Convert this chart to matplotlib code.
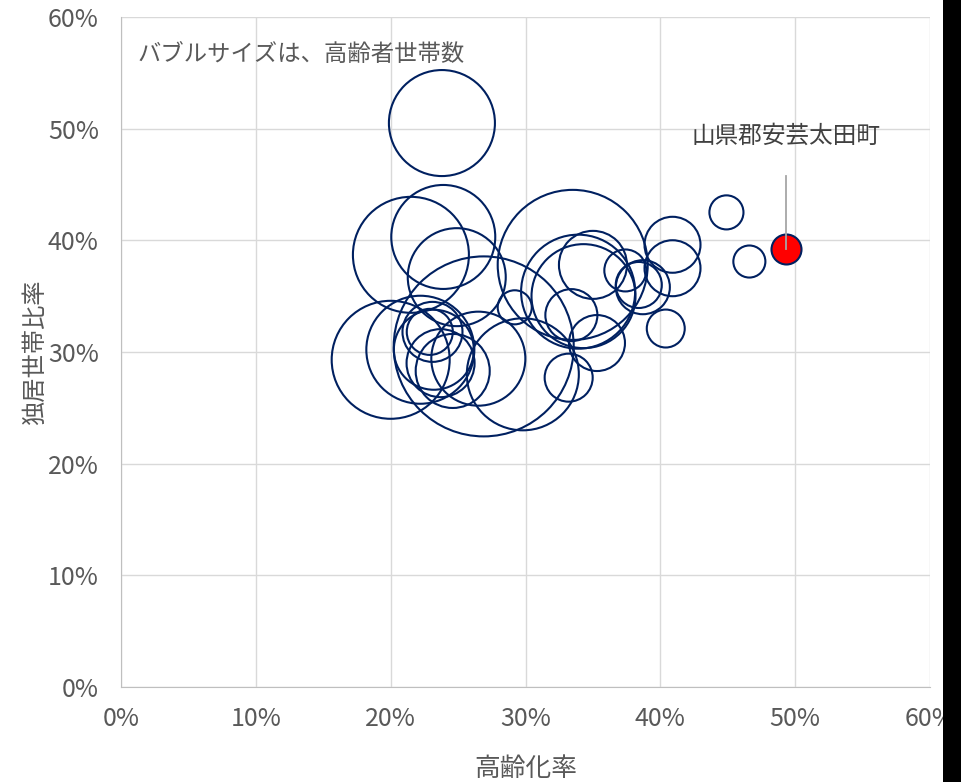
import matplotlib
matplotlib.use("Agg")
import matplotlib.pyplot as plt
from matplotlib.patches import Rectangle
import numpy as np

plt.rcParams['font.family'] = ['Noto Sans CJK JP', 'DejaVu Sans']

# 高齢化率 (%), 独居世帯比率 (%), 高齢者世帯数
aging_rate = [23.8, 21.5, 23.9, 24.9, 33.5, 26.9, 20.0, 22.2, 22.9, 23.1,
              23.2, 23.7, 24.6, 26.5, 29.8, 29.2, 33.9, 34.3, 35.0, 33.4,
              35.3, 33.2, 37.4, 38.4, 38.7, 40.9, 40.9, 40.4, 44.9, 46.6]
single_rate = [50.5, 38.7, 40.3, 36.7, 37.8, 30.5, 29.3, 30.2, 31.8, 31.8,
               30.2, 29.0, 28.3, 29.4, 28.0, 34.0, 35.4, 35.0, 37.8, 33.3,
               30.8, 27.7, 37.3, 36.0, 35.8, 39.6, 37.5, 32.1, 42.5, 38.1]
households = [8430, 10090, 8110, 7200, 16880, 24300, 10440, 8750, 1590, 2700,
              4800, 3470, 4110, 6630, 9410, 870, 9750, 8110, 3470, 2030,
              2350, 1730, 1320, 1590, 2190, 2350, 2350, 1080, 870, 770]

# highlighted town
target_name = "山県郡安芸太田町"
target_x = 49.3
target_y = 39.2
target_hh = 675

size_scale = 0.6912

fig = plt.figure(figsize=(9.61, 7.82), dpi=100)
ax = fig.add_axes([0.1259, 0.1215, 0.8419, 0.8568])

navy = "#002060"
ax.scatter(aging_rate, single_rate, s=np.array(households) * size_scale,
           facecolors="none", edgecolors=navy, linewidths=1.5, zorder=3)
ax.scatter([target_x], [target_y], s=target_hh * size_scale,
           facecolors="#FF0000", edgecolors=navy, linewidths=1.5, zorder=4)

ax.set_xlim(0, 60)
ax.set_ylim(0, 60)
ticks = np.arange(0, 61, 10)
ax.set_xticks(ticks)
ax.set_yticks(ticks)
ax.set_xticklabels([f"{t}%" for t in ticks])
ax.set_yticklabels([f"{t}%" for t in ticks])
ax.tick_params(length=0, labelsize=18, colors="#595959")
ax.tick_params(axis="x", pad=14)
ax.tick_params(axis="y", pad=16)

for s in ax.spines.values():
    s.set_visible(False)
ax.spines["left"].set_visible(True)
ax.spines["bottom"].set_visible(True)
ax.spines["left"].set_color("#BFBFBF")
ax.spines["bottom"].set_color("#BFBFBF")
ax.grid(True, color="#D9D9D9", linewidth=1.0, zorder=0)
ax.set_axisbelow(True)

ax.set_xlabel("高齢化率", fontsize=18.5, color="#595959", labelpad=17)
ax.set_ylabel("独居世帯比率", fontsize=17.5, color="#595959", labelpad=0)

ax.text(1.2, 56.6, "バブルサイズは、高齢者世帯数", fontsize=16.8, color="#595959",
        va="center", ha="left")

# leader line and label for the town
ax.plot([target_x, target_x], [target_y, 45.8], color="#A6A6A6", linewidth=1.3, zorder=5)
ax.text(target_x, 49.3, target_name, fontsize=17, color="#404040",
        ha="center", va="center")

# dark strip on right edge
fig.add_artist(Rectangle((943 / 961, 0), 1 - 943 / 961, 1, transform=fig.transFigure,
                         facecolor="black", edgecolor="none", zorder=10))

fig.savefig("out.png", dpi=100)
